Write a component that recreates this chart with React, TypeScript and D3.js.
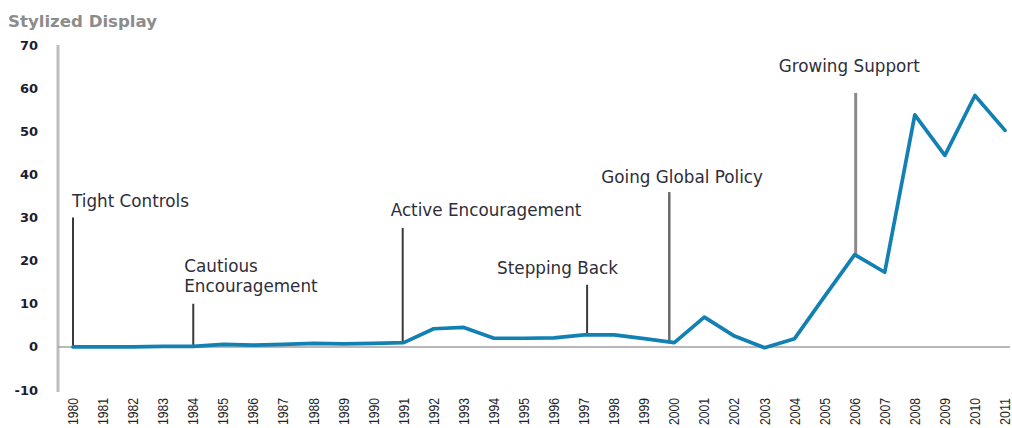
import React from "react";
import * as d3 from "d3";

const years: number[] = d3.range(1980, 2012);
const values: number[] = [
  0, 0, 0, 0.1, 0.1, 0.6, 0.4, 0.6, 0.8, 0.7, 0.8, 1.0,
  4.2, 4.5, 2.0, 2.0, 2.1, 2.8, 2.8, 1.9, 1.0, 6.9,
  2.5, -0.2, 1.9, 11.7, 21.4, 17.3, 53.8, 44.4, 58.3, 50.2,
];
const yTicks: number[] = [-10, 0, 10, 20, 30, 40, 50, 60, 70];

const annoLabels: string[][] = [
  ["Tight Controls"],
  ["Cautious", "Encouragement"],
  ["Active Encouragement"],
  ["Stepping Back"],
  ["Going Global Policy"],
  ["Growing Support"],
];
const annoYears: number[] = [1980, 1984, 1991, 1997, 2000, 2006];
const annoTops: number[] = [30, 10, 27.6, 14.4, 35.9, 58.9];

// layout for annotations (offsets in px)
const annoLineDx: number[] = [0, 0, -1, 3, -5, 1];
const annoDx: number[] = [-1, -9, -12, -90, -68, -77];
const annoDy: number[] = [-11, -32, -12, -11, -9, -21];
const annoStroke: string[] = ["#3a3a3a", "#3a3a3a", "#3a3a3a", "#3a3a3a", "#6a6a6a", "#8a8a8a"];
const annoWidth: number[] = [2, 2, 2, 2, 2.5, 3];

const W = 1012;
const H = 428;

export default function App() {
  const x = d3.scaleLinear().domain([1980, 2011]).range([73, 1005]);
  const y = d3.scaleLinear().domain([-10, 70]).range([390, 45]);
  const line = d3
    .line<number>()
    .x((_, i) => x(years[i]))
    .y((d) => y(d));

  const valueAt = (yr: number) => values[years.indexOf(yr)];

  return (
    <svg
      width={W}
      height={H}
      style={{ position: "absolute", left: 0, top: 0, display: "block", background: "#fff" }}
    >
      <text
        x={8}
        y={27}
        fontFamily="DejaVu Sans"
        fontWeight="bold"
        fontSize={16.6}
        fill="#8c8c8c"
      >
        Stylized Display
      </text>

      {/* y axis line */}
      <line x1={58} x2={58} y1={y(70)} y2={y(-10) + 2} stroke="#bdbdbd" strokeWidth={3} />
      {/* zero line */}
      <line x1={58} x2={1010} y1={y(0)} y2={y(0)} stroke="#a0a0a0" strokeWidth={1.5} />

      {yTicks.map((t) => (
        <text
          key={t}
          x={38}
          y={y(t)}
          dy="0.35em"
          textAnchor="end"
          fontFamily="DejaVu Sans"
          fontWeight="bold"
          fontSize={13}
          fill="#1c1c30"
        >
          {t}
        </text>
      ))}

      {years.map((yr) => (
        <text
          key={yr}
          transform={`translate(${x(yr)},398) rotate(-90)`}
          dy="0.36em"
          textAnchor="end"
          fontFamily="Liberation Sans"
          fontSize={14}
          textLength={27}
          lengthAdjust="spacingAndGlyphs"
          fill="#1e1e28"
        >
          {yr}
        </text>
      ))}

      {annoYears.map((yr, i) => {
        const lx = x(yr) + annoLineDx[i];
        const top = y(annoTops[i]);
        const bottom = y(valueAt(yr));
        const lines = annoLabels[i];
        return (
          <g key={yr}>
            <line x1={lx} x2={lx} y1={top} y2={bottom} stroke={annoStroke[i]} strokeWidth={annoWidth[i]} />
            <text
              x={lx + annoDx[i]}
              y={top + annoDy[i]}
              fontFamily="DejaVu Sans"
              fontSize={16.8}
              fill="#2e2e3a"
            >
              {lines.map((l, j) => (
                <tspan key={j} x={lx + annoDx[i]} dy={j === 0 ? 0 : 20}>
                  {l}
                </tspan>
              ))}
            </text>
          </g>
        );
      })}

      <path
        d={line(values) || ""}
        fill="none"
        stroke="#1380b4"
        strokeWidth={3.7}
        strokeLinejoin="round"
        strokeLinecap="round"
      />
    </svg>
  );
}
